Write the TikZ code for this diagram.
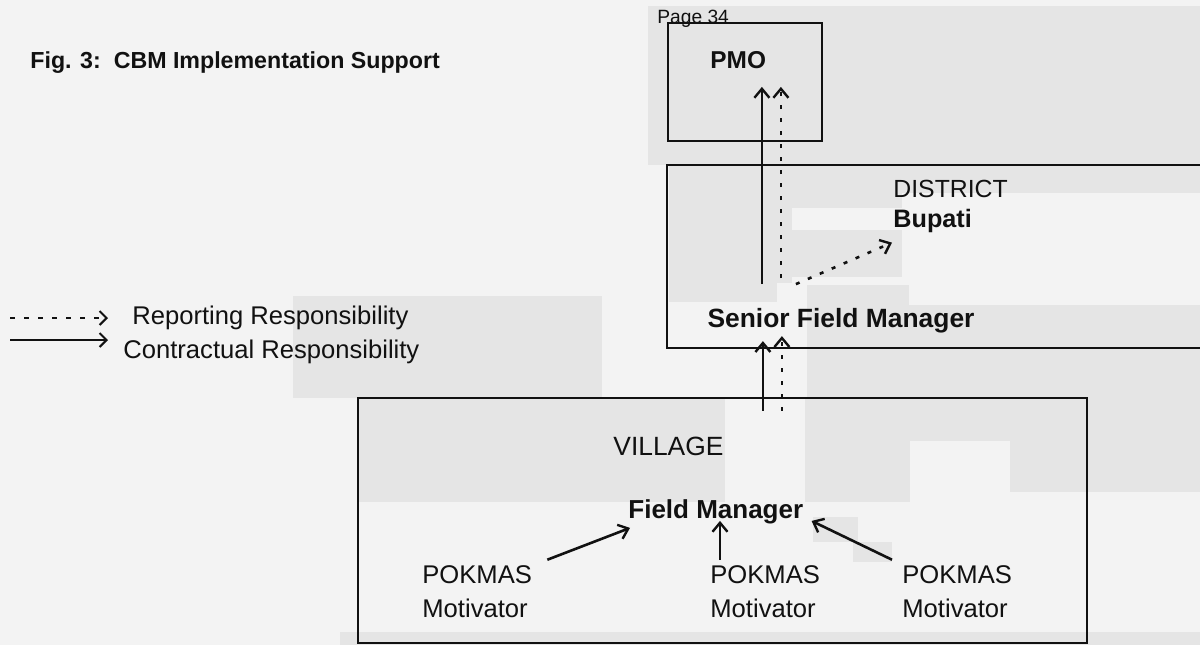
\documentclass[tikz,border=0pt]{standalone}
\usepackage{fontspec}
\setmainfont{Liberation Sans}
\usetikzlibrary{arrows.meta,calc,fit}

\definecolor{paper}{HTML}{F3F3F3}
\definecolor{shade}{HTML}{E5E5E5}
\definecolor{ink}{HTML}{111111}

\tikzset{
  frame/.style={draw=ink, line width=1.1pt, inner sep=0pt},
  lbl/.style={inner sep=0pt, text=ink},
  titlefont/.style={font=\bfseries\fontsize{11.6pt}{14pt}\selectfont},
  pagefont/.style={font=\fontsize{9.6pt}{12pt}\selectfont},
  plainfont/.style={font=\fontsize{12.8pt}{17pt}\selectfont},
  boldfont/.style={font=\bfseries\fontsize{13pt}{17pt}\selectfont},
  solidarrow/.style={draw=ink, line width=1.3pt,
    -{Straight Barb[length=4.5pt,width=7.5pt,line width=1.2pt]}},
  dotarrow/.style={solidarrow, dash pattern=on 2pt off 4.5pt},
  keydots/.style={draw=ink, line width=0.9pt, dash pattern=on 2.5pt off 4.5pt,
    -{Straight Barb[length=3.5pt,width=7pt,line width=1pt]}},
  keysolid/.style={draw=ink, line width=0.9pt,
    -{Straight Barb[length=3.5pt,width=7pt,line width=1pt]}},
  tone/.style={fill=shade, draw=none},
}

\begin{document}
\begin{tikzpicture}[x=0.5pt, y=-0.5pt]
  % page and bounding box
  \fill[paper] (0,0) rectangle (1200,645);
  \useasboundingbox (0,0) rectangle (1200,645);

  % darker paper tone areas
  \fill[tone] (648,6) rectangle (1200,165);
  \fill[tone] (669,165) rectangle (1200,193);
  \fill[tone] (669,193) rectangle (792,283);
  \fill[tone] (792,193) rectangle (902,208);
  \fill[tone] (792,230) rectangle (902,277);
  \fill[tone] (669,283) rectangle (777,302);
  \fill[tone] (807,285) rectangle (909,398);
  \fill[tone] (909,305) rectangle (1200,398);
  \fill[tone] (293,296) rectangle (602,398);
  \fill[tone] (358,398) rectangle (725,502);
  \fill[tone] (805,398) rectangle (910,502);
  \fill[tone] (910,398) rectangle (1200,441);
  \fill[tone] (1010,441) rectangle (1200,492);
  \fill[tone] (813,517) rectangle (858,542);
  \fill[tone] (853,542) rectangle (892,562);
  \fill[tone] (340,632) rectangle (1200,645);

  % title and page number
  \node[lbl, titlefont, anchor=base west] (title) at (30,68)
    {Fig. 3:\ \ CBM Implementation Support};
  \node[lbl, pagefont, anchor=base west] (page) at (657,23) {Page 34};

  % boxes
  \node[frame, fit={(668,23) (822,141)}] (pmo) {};
  \node[frame, fit={(667,165) (1230,348)}] (district) {};
  \node[frame, fit={(358,398) (1087,643)}] (village) {};

  % box texts
  \node[lbl, boldfont, font=\bfseries\fontsize{12.2pt}{14pt}\selectfont, anchor=base west] (pmotext) at (710,68) {PMO};
  \node[lbl, plainfont, font=\fontsize{12.4pt}{14pt}\selectfont, anchor=base west] (dist) at (893,197) {DISTRICT};
  \node[lbl, boldfont, font=\bfseries\fontsize{12.6pt}{14pt}\selectfont, anchor=base west] (bupati) at (893,227) {Bupati};
  \node[lbl, boldfont, font=\bfseries\fontsize{13.2pt}{16pt}\selectfont, anchor=base] (sfm) at (841,327) {Senior Field Manager};
  \node[lbl, plainfont, font=\fontsize{13.2pt}{16pt}\selectfont, anchor=base west] (vil) at (613,455) {VILLAGE};
  \node[lbl, boldfont, anchor=base west] (fm) at (628,518) {Field Manager};

  % two-line labels: the base anchor sits on the second line
  \node[lbl, plainfont, align=left, anchor=base west] (pk1) at (422,617) {POKMAS\\Motivator};
  \node[lbl, plainfont, align=left, anchor=base west] (pk2) at (710,617) {POKMAS\\Motivator};
  \node[lbl, plainfont, align=left, anchor=base west] (pk3) at (902,617) {POKMAS\\Motivator};

  % motivators report to the field manager
  \draw[solidarrow] ($(pk1.north east)+(15,-5)$) -- ($(fm.south west)+(2,4)$);
  \draw[solidarrow] ($(pk2.north west)+(10,-5)$) -- ($(pk2.north west |- fm.south)+(10,-3)$);
  \draw[solidarrow] ($(pk3.north west)+(-10,-5)$) -- ($(fm.south east)+(8,-3)$);

  % village up to the senior field manager
  \draw[solidarrow] ($(village.north west)+(406,14)$) -- ($(district.south west)+(97,-8)$);
  \draw[dotarrow]   ($(village.north west)+(425,14)$) -- ($(district.south west)+(116,-13)$);

  % senior field manager up to the PMO
  \draw[solidarrow] ($(district.south west)+(96,-65)$) -- ($(pmo.north west)+(95,65)$);
  \draw[dotarrow]   ($(district.south west)+(115,-71)$) -- ($(pmo.north west)+(114,65)$);

  % senior field manager reports to the Bupati
  \draw[dotarrow] ($(district.south west)+(130,-65)$) -- ($(bupati.south west)+(-1,10)$);

  % key
  \node[lbl, plainfont, anchor=base west] (rep) at (132,324) {Reporting Responsibility};
  \node[lbl, plainfont, anchor=base west] (con) at (123,358) {Contractual Responsibility};
  \coordinate (r0) at (10,318);
  \coordinate (c0) at (10,340);
  \draw[keydots]  (r0) -- ($(r0 -| rep.west)+(-24,0)$);
  \draw[keysolid] (c0) -- ($(c0 -| rep.west)+(-24,0)$);
\end{tikzpicture}
\end{document}
